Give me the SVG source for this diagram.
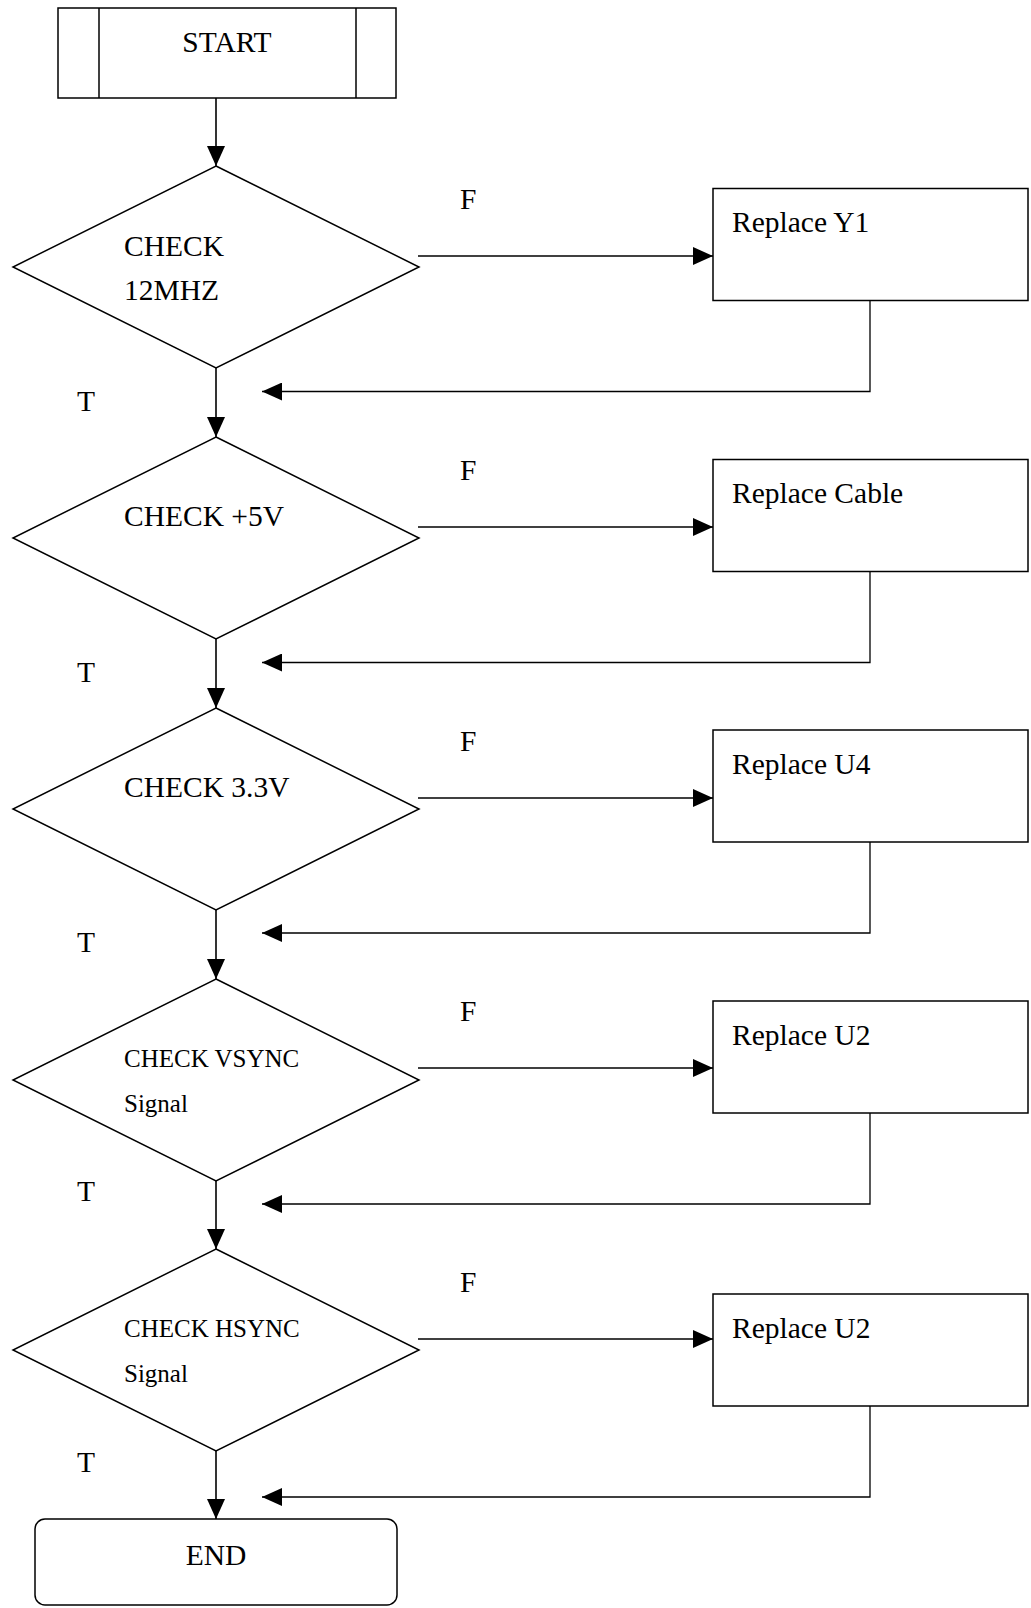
<svg xmlns="http://www.w3.org/2000/svg" width="1031" height="1608" viewBox="0 0 1031 1608">
<defs>
<marker id="ah" markerUnits="userSpaceOnUse" markerWidth="20" markerHeight="18" refX="20" refY="9" orient="auto">
<path d="M0,0 L20,9 L0,18 z" fill="#000"/>
</marker>
<style>
.shape{fill:#fff;stroke:#000;stroke-width:1.5}
.line{fill:none;stroke:#000;stroke-width:1.6}
.ret{fill:none;stroke:#000;stroke-width:1.3}
.t{font-family:"Liberation Serif","Times New Roman",serif;font-size:29.5px;fill:#000}
.s{font-family:"Liberation Serif","Times New Roman",serif;font-size:25px;fill:#000}
.c{text-anchor:middle}
</style>
</defs>
<rect width="1031" height="1608" fill="#fff"/>
<g id="start">
<rect class="shape" x="58" y="8" width="338" height="90"/>
<line class="shape" x1="99" y1="8" x2="99" y2="98"/>
<line class="shape" x1="356" y1="8" x2="356" y2="98"/>
<text class="t c" x="227" y="52">START</text>
</g>
<g id="check1">
<polygon class="shape" points="216,166 419,267 216,368 13,267"/>
<text class="t" x="124" y="256">CHECK</text>
<text class="t" x="124" y="300">12MHZ</text>
</g>
<g id="check2">
<polygon class="shape" points="216,437 419,538 216,639 13,538"/>
<text class="t" x="124" y="526">CHECK +5V</text>
</g>
<g id="check3">
<polygon class="shape" points="216,708 419,809 216,910 13,809"/>
<text class="t" x="124" y="797">CHECK 3.3V</text>
</g>
<g id="check4">
<polygon class="shape" points="216,979 419,1080 216,1181 13,1080"/>
<text class="s" x="124" y="1067">CHECK VSYNC</text>
<text class="s" x="124" y="1112">Signal</text>
</g>
<g id="check5">
<polygon class="shape" points="216,1249 419,1350 216,1451 13,1350"/>
<text class="s" x="124" y="1337">CHECK HSYNC</text>
<text class="s" x="124" y="1382">Signal</text>
</g>
<g id="replace1">
<rect class="shape" x="713" y="188.5" width="315" height="112"/>
<text class="t" x="732" y="232">Replace Y1</text>
</g>
<g id="replace2">
<rect class="shape" x="713" y="459.5" width="315" height="112"/>
<text class="t" x="732" y="503">Replace Cable</text>
</g>
<g id="replace3">
<rect class="shape" x="713" y="730" width="315" height="112"/>
<text class="t" x="732" y="773.5">Replace U4</text>
</g>
<g id="replace4">
<rect class="shape" x="713" y="1001" width="315" height="112"/>
<text class="t" x="732" y="1044.5">Replace U2</text>
</g>
<g id="replace5">
<rect class="shape" x="713" y="1294" width="315" height="112"/>
<text class="t" x="732" y="1337.5">Replace U2</text>
</g>
<g id="end">
<rect class="shape" x="35" y="1519" width="362" height="86" rx="10" ry="10"/>
<text class="t c" x="216" y="1565">END</text>
</g>
<g id="connectors">
<line class="line" x1="216" y1="98" x2="216" y2="166" marker-end="url(#ah)"/>
<line class="line" x1="216" y1="368" x2="216" y2="437" marker-end="url(#ah)"/>
<line class="line" x1="216" y1="639" x2="216" y2="708" marker-end="url(#ah)"/>
<line class="line" x1="216" y1="910" x2="216" y2="979" marker-end="url(#ah)"/>
<line class="line" x1="216" y1="1181" x2="216" y2="1249" marker-end="url(#ah)"/>
<line class="line" x1="216" y1="1451" x2="216" y2="1519" marker-end="url(#ah)"/>
<line class="line" x1="418" y1="256" x2="713" y2="256" marker-end="url(#ah)"/>
<line class="line" x1="418" y1="527" x2="713" y2="527" marker-end="url(#ah)"/>
<line class="line" x1="418" y1="798" x2="713" y2="798" marker-end="url(#ah)"/>
<line class="line" x1="418" y1="1068" x2="713" y2="1068" marker-end="url(#ah)"/>
<line class="line" x1="418" y1="1339" x2="713" y2="1339" marker-end="url(#ah)"/>
<polyline class="ret" points="870,300.5 870,391.5 262,391.5" marker-end="url(#ah)"/>
<polyline class="ret" points="870,571.5 870,662.5 262,662.5" marker-end="url(#ah)"/>
<polyline class="ret" points="870,842 870,933 262,933" marker-end="url(#ah)"/>
<polyline class="ret" points="870,1113 870,1204 262,1204" marker-end="url(#ah)"/>
<polyline class="ret" points="870,1406 870,1497 262,1497" marker-end="url(#ah)"/>
<text class="t" x="460" y="209">F</text>
<text class="t" x="460" y="480">F</text>
<text class="t" x="460" y="751">F</text>
<text class="t" x="460" y="1021">F</text>
<text class="t" x="460" y="1292">F</text>
<text class="t" x="77" y="411">T</text>
<text class="t" x="77" y="682">T</text>
<text class="t" x="77" y="952">T</text>
<text class="t" x="77" y="1201">T</text>
<text class="t" x="77" y="1472">T</text>
</g>
</svg>
